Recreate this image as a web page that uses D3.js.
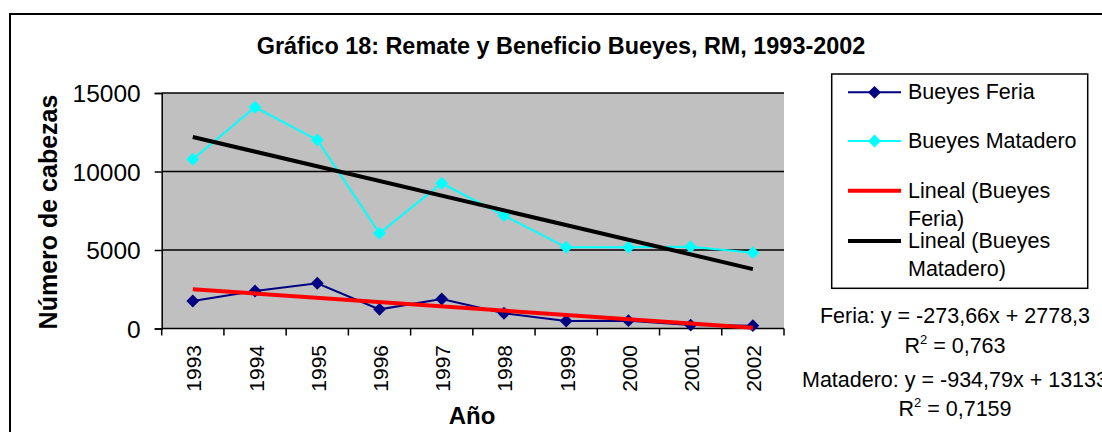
<!DOCTYPE html>
<html lang="es">
<head>
  <meta charset="UTF-8">
  <title>Gráfico 18: Remate y Beneficio Bueyes, RM, 1993-2002</title>
  <script src="https://d3js.org/d3.v7.min.js"></script>
  <style>
    body { margin: 0; background: #fff; }
    svg { display: block; font-family: "Liberation Sans", Arial, sans-serif; }
  </style>
</head>
<body>
  <div id="chart"></div>
  <script>
    // datos
    const years = ["1993", "1994", "1995", "1996", "1997", "1998", "1999", "2000", "2001", "2002"];
    const feria = [1750, 2390, 2880, 1220, 1880, 970, 480, 500, 220, 180];
    const matadero = [10780, 14090, 12010, 6060, 9250, 7190, 5170, 5170, 5210, 4830];
    const yTicks = [0, 5000, 10000, 15000];
    // líneas de tendencia (x = 1..10)
    const feriaTrend = [-273.66, 2778.3];
    const mataderoTrend = [-934.79, 13133];
    const legendItems = [
      { lines: ["Bueyes Feria"], color: "#000080", marker: true, width: 2 },
      { lines: ["Bueyes Matadero"], color: "#00FFFF", marker: true, width: 2 },
      { lines: ["Lineal (Bueyes", "Feria)"], color: "#FF0000", marker: false, width: 4 },
      { lines: ["Lineal (Bueyes", "Matadero)"], color: "#000000", marker: false, width: 4 }
    ];
    const equations = [
      { text: "Feria: y = -273,66x + 2778,3", r2: "0,763" },
      { text: "Matadero: y = -934,79x + 13133", r2: "0,7159" }
    ];

    const W = 1102, H = 432;
    const plot = { left: 161.7, right: 784, top: 93, bottom: 328.5 };

    const svg = d3.select("#chart").append("svg")
      .attr("width", W).attr("height", H);

    // marco del gráfico
    svg.append("rect")
      .attr("x", 10).attr("y", 14).attr("width", 1200).attr("height", 500)
      .attr("fill", "#fff").attr("stroke", "#000").attr("stroke-width", 2);

    const x = d3.scaleBand().domain(years).range([plot.left, plot.right]).padding(0);
    const y = d3.scaleLinear().domain([0, 15000]).range([plot.bottom, plot.top]);
    const cx = d => x(d) + x.bandwidth() / 2;

    // área de trazado
    svg.append("rect")
      .attr("x", plot.left).attr("y", plot.top)
      .attr("width", plot.right - plot.left).attr("height", plot.bottom - plot.top)
      .attr("fill", "#C0C0C0");

    svg.append("g").selectAll("line")
      .data(yTicks.filter(d => d > 0))
      .join("line")
      .attr("x1", plot.left).attr("x2", plot.right)
      .attr("y1", d => y(d)).attr("y2", d => y(d))
      .attr("stroke", "#000").attr("stroke-width", 1.5);

    // eje Y
    const yAxis = svg.append("g")
      .attr("transform", `translate(${plot.left},0)`)
      .call(d3.axisLeft(y).tickValues(yTicks).tickSize(7).tickPadding(14).tickFormat(d3.format("d")));
    yAxis.select(".domain").attr("stroke-width", 1.5);
    yAxis.selectAll(".tick line").attr("stroke-width", 1.5);
    yAxis.selectAll("text").attr("font-size", 24.5).attr("font-family", null).attr("dy", "0.36em");

    // eje X
    const xg = svg.append("g");
    xg.append("line")
      .attr("x1", plot.left).attr("x2", plot.right)
      .attr("y1", plot.bottom).attr("y2", plot.bottom)
      .attr("stroke", "#000").attr("stroke-width", 1.5);
    xg.selectAll(".tk")
      .data(years.concat(["end"]))
      .join("line")
      .attr("x1", (d, i) => plot.left + i * x.bandwidth())
      .attr("x2", (d, i) => plot.left + i * x.bandwidth())
      .attr("y1", plot.bottom).attr("y2", plot.bottom + 7)
      .attr("stroke", "#000").attr("stroke-width", 1.5);
    xg.selectAll("text")
      .data(years)
      .join("text")
      .attr("transform", d => `translate(${cx(d) + 8.5},345) rotate(-90)`)
      .attr("text-anchor", "end")
      .attr("font-size", 21)
      .text(d => d);

    // series
    const line = d3.line().x((d, i) => cx(years[i])).y(d => y(d));
    const diamond = d3.symbol().type(d3.symbolDiamond2).size(105);

    function drawSeries(values, color) {
      svg.append("path").datum(values)
        .attr("d", line).attr("fill", "none")
        .attr("stroke", color).attr("stroke-width", 2);
      svg.append("g").selectAll("path")
        .data(values)
        .join("path")
        .attr("d", diamond)
        .attr("transform", (d, i) => `translate(${cx(years[i])},${y(d)})`)
        .attr("fill", color);
    }
    drawSeries(feria, "#000080");
    drawSeries(matadero, "#00FFFF");

    function drawTrend(coef, color) {
      const ends = [1, years.length];
      svg.append("line")
        .attr("x1", cx(years[0])).attr("x2", cx(years[years.length - 1]))
        .attr("y1", y(coef[0] * ends[0] + coef[1]))
        .attr("y2", y(coef[0] * ends[1] + coef[1]))
        .attr("stroke", color).attr("stroke-width", 4);
    }
    drawTrend(feriaTrend, "#FF0000");
    drawTrend(mataderoTrend, "#000000");

    // título y rótulos de ejes
    svg.append("text")
      .attr("x", 561).attr("y", 54)
      .attr("text-anchor", "middle")
      .attr("font-size", 23.4).attr("font-weight", "bold")
      .text("Gráfico 18: Remate y Beneficio Bueyes, RM, 1993-2002");

    svg.append("text")
      .attr("transform", "translate(57,212) rotate(-90)")
      .attr("text-anchor", "middle")
      .attr("font-size", 25).attr("font-weight", "bold")
      .text("Número de cabezas");

    svg.append("text")
      .attr("x", 472).attr("y", 424)
      .attr("text-anchor", "middle")
      .attr("font-size", 24).attr("font-weight", "bold")
      .text("Año");

    // leyenda
    const lg = svg.append("g");
    lg.append("rect")
      .attr("x", 831.7).attr("y", 74).attr("width", 256).attr("height", 214.3)
      .attr("fill", "#fff").attr("stroke", "#000").attr("stroke-width", 1.5);
    const rowY = [92.3, 141, 190.7, 241];
    legendItems.forEach((item, i) => {
      lg.append("line")
        .attr("x1", 848).attr("x2", 901)
        .attr("y1", rowY[i]).attr("y2", rowY[i])
        .attr("stroke", item.color).attr("stroke-width", item.width);
      if (item.marker) {
        lg.append("path").attr("d", diamond)
          .attr("transform", `translate(874.5,${rowY[i]})`)
          .attr("fill", item.color);
      }
      item.lines.forEach((t, j) => {
        lg.append("text")
          .attr("x", 908).attr("y", rowY[i] + 7 + j * 28)
          .attr("font-size", 21.5)
          .text(t);
      });
    });

    // ecuaciones de tendencia
    const eqY = [323, 386.7];
    equations.forEach((eq, i) => {
      svg.append("text")
        .attr("x", 955).attr("y", eqY[i])
        .attr("text-anchor", "middle").attr("font-size", 21.5)
        .text(eq.text);
      const r = svg.append("text")
        .attr("x", 955).attr("y", eqY[i] + 29.5)
        .attr("text-anchor", "middle").attr("font-size", 21.5);
      r.append("tspan").text("R");
      r.append("tspan").attr("font-size", 13).attr("dy", -9).text("2");
      r.append("tspan").attr("dy", 9).text(" = " + eq.r2);
    });
  </script>
</body>
</html>
